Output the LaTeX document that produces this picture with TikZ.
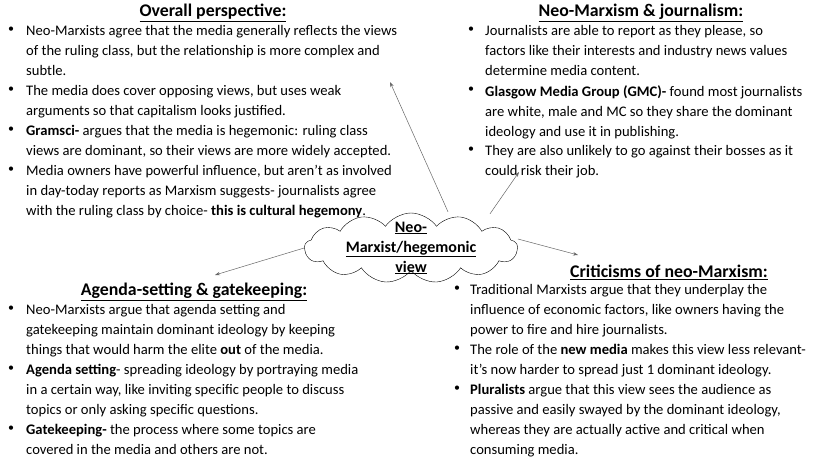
\documentclass[tikz,border=0pt]{standalone}
\usepackage{fontspec}
\setmainfont{Carlito}
\usetikzlibrary{shapes.symbols,arrows.meta}
\begin{document}
\begin{tikzpicture}[x=1pt,y=-1pt,
  txt/.style={anchor=north west,inner sep=0pt,align=left,font=\fontsize{14.6}{20}\selectfont},
  bul/.style={anchor=north west,inner sep=0pt,font=\fontsize{12}{20}\selectfont},
  head/.style={inner sep=0pt,font=\fontsize{17.8}{20}\selectfont\bfseries},
  arr/.style={draw=black!60,-{Stealth[length=5pt,width=3.5pt]},line width=0.5pt}]
\useasboundingbox (0,0) rectangle (828,466);
\node[head] (h1) at (213,13) {\underline{Overall perspective:}};
\node[bul] (b1a) at (8,27) {•};
\node[txt] (t1a) at (26,25) {Neo-Marxists agree that the media generally reflects the views\\of the ruling class, but the relationship is more complex and\\subtle.};
\node[bul] (b1b) at (8,87) {•};
\node[txt] (t1b) at (26,85) {The media does cover opposing views, but uses weak\\arguments so that capitalism looks justified.};
\node[bul] (b1c) at (8,127) {•};
\node[txt] (t1c) at (26,125) {\textbf{Gramsci-} argues that the media is hegemonic: ruling class\\views are dominant, so their views are more widely accepted.};
\node[bul] (b1d) at (8,167) {•};
\node[txt] (t1d) at (26,165) {Media owners have powerful influence, but aren't as involved\\in day-today reports as Marxism suggests- journalists agree\\with the ruling class by choice- \textbf{this is cultural hegemony}.};

\node[head] (h2) at (641,13) {\underline{Neo-Marxism \& journalism:}};
\node[bul] (b2a) at (468,27) {•};
\node[txt] (t2a) at (485,25) {Journalists are able to report as they please, so\\factors like their interests and industry news values\\determine media content.};
\node[bul] (b2b) at (468,87) {•};
\node[txt] (t2b) at (485,85) {\textbf{Glasgow Media Group (GMC)-} found most journalists\\are white, male and MC so they share the dominant\\ideology and use it in publishing.};
\node[bul] (b2c) at (468,147) {•};
\node[txt] (t2c) at (485,145) {They are also unlikely to go against their bosses as it\\could risk their job.};

\node[head] (h3) at (194,292) {\underline{Agenda-setting \& gatekeeping:}};
\node[bul] (b3a) at (8,306) {•};
\node[txt] (t3a) at (26,304) {Neo-Marxists argue that agenda setting and\\gatekeeping maintain dominant ideology by keeping\\things that would harm the elite \textbf{out} of the media.};
\node[bul] (b3b) at (8,366) {•};
\node[txt] (t3b) at (26,364) {\textbf{Agenda setting}- spreading ideology by portraying media\\in a certain way, like inviting specific people to discuss\\topics or only asking specific questions.};
\node[bul] (b3c) at (8,426) {•};
\node[txt] (t3c) at (26,424) {\textbf{Gatekeeping-} the process where some topics are\\covered in the media and others are not.};

\node[head] (h4) at (669,272) {\underline{Criticisms of neo-Marxism:}};
\node[bul] (b4a) at (454,286) {•};
\node[txt] (t4a) at (470,284) {Traditional Marxists argue that they underplay the\\influence of economic factors, like owners having the\\power to fire and hire journalists.};
\node[bul] (b4b) at (454,346) {•};
\node[txt] (t4b) at (470,344) {The role of the \textbf{new media} makes this view less relevant-\\it's now harder to spread just 1 dominant ideology.};
\node[bul] (b4c) at (454,386) {•};
\node[txt] (t4c) at (470,384) {\textbf{Pluralists} argue that this view sees the audience as\\passive and easily swayed by the dominant ideology,\\whereas they are actually active and critical when\\consuming media.};

\node[cloud,draw,cloud puffs=13,cloud puff arc=110,aspect=3.2,minimum width=213,minimum height=70,inner sep=0pt] (c) at (411,248) {};
\node[head,align=center,font=\fontsize{16}{20}\selectfont\bfseries] (ct) at (411,248) {\underline{Neo-}\\\underline{Marxist/hegemonic}\\\underline{view}};

\coordinate (e1) at (390,82);
\coordinate (e2) at (519,172);
\coordinate (e3) at (215,275);
\coordinate (e4) at (578,255);
\draw[arr] (c.north) ++(37,-1) -- (e1);
\draw[arr] (c.north) ++(79,1) -- (e2);
\draw[arr] (c.west) -- (e3);
\draw[arr] (c.east) ++(0,-9) -- (e4);
\end{tikzpicture}
\end{document}
